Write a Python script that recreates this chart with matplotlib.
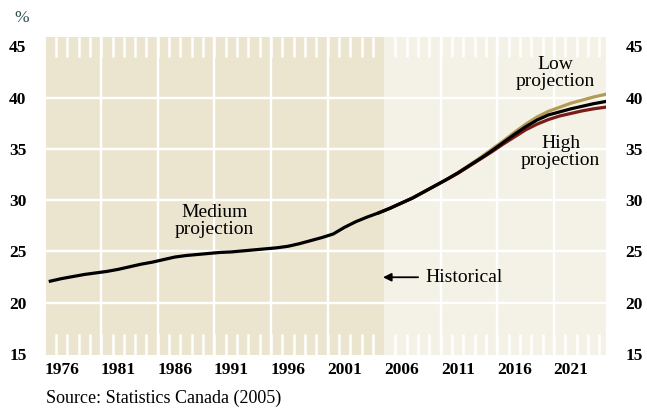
import numpy as np
import matplotlib
matplotlib.use("Agg")
import matplotlib.pyplot as plt

plt.rcParams["font.family"] = ["Liberation Serif", "DejaVu Serif"]

# historical / medium series
hist_years = list(range(1975, 2005))
hist_vals = [22.1, 22.35, 22.55, 22.75, 22.9, 23.05, 23.25, 23.5, 23.75, 23.95,
             24.2, 24.45, 24.6, 24.7, 24.8, 24.9, 24.95, 25.05, 25.15, 25.25,
             25.35, 25.5, 25.75, 26.05, 26.35, 26.7, 27.35, 27.9, 28.35, 28.75]

proj_years = list(range(2004, 2025))
medium_vals = [28.75, 29.2, 29.7, 30.2, 30.8, 31.4, 32.0, 32.65, 33.35, 34.05,
               34.8, 35.6, 36.4, 37.15, 37.8, 38.3, 38.6, 38.9, 39.15, 39.4, 39.6]
low_vals = [28.75, 29.2, 29.7, 30.2, 30.8, 31.4, 32.0, 32.65, 33.4, 34.15,
            34.95, 35.75, 36.6, 37.4, 38.1, 38.65, 39.05, 39.45, 39.75, 40.05, 40.3]
high_vals = [28.75, 29.2, 29.7, 30.2, 30.8, 31.4, 32.0, 32.6, 33.3, 34.0,
             34.7, 35.45, 36.15, 36.85, 37.4, 37.85, 38.2, 38.45, 38.7, 38.9, 39.05]

year_labels = [1976, 1981, 1986, 1991, 1996, 2001, 2006, 2011, 2016, 2021]
y_ticks = [15, 20, 25, 30, 35, 40, 45]
hist_end = 2004.5

dark_bg = "#EBE5D0"
light_bg = "#F4F2E6"

fig = plt.figure(figsize=(6.47, 4.16), dpi=100)
ax = fig.add_axes([0.0711, 0.1466, 0.8655, 0.7644])
ax.set_xlim(1974.62, 2024.1)
ax.set_ylim(14.9, 45.9)
ax.set_facecolor(light_bg)
ax.axvspan(1974.62, hist_end, color=dark_bg, lw=0, zorder=0)

# white grid lines
for x in np.arange(1979.5, 2024, 5):
    if abs(x - hist_end) > 0.1:
        ax.axvline(x, color="white", lw=1.7, zorder=1)
for y in [20, 25, 30, 35, 40]:
    ax.axhline(y, color="white", lw=1.7, zorder=1)

# yearly tick marks at top and bottom
for x in np.arange(1975.5, 2024, 1):
    if abs(x - hist_end) < 0.1:
        continue
    ax.plot([x, x], [45.9, 43.95], color="white", lw=1.8, zorder=1, solid_capstyle="butt")
    ax.plot([x, x], [14.9, 16.95], color="white", lw=1.8, zorder=1, solid_capstyle="butt")

ax.plot(proj_years, low_vals, color="#B49B55", lw=2.3, zorder=3)
ax.plot(proj_years, high_vals, color="#7B1A1A", lw=2.3, zorder=3)
ax.plot(hist_years + proj_years[1:], hist_vals + medium_vals[1:], color="black", lw=2.3, zorder=4)

ax.set_xticks(year_labels)
ax.set_xticklabels([str(y) for y in year_labels], fontsize=12.5, fontweight="bold")
ax.set_yticks(y_ticks)
ax.set_yticklabels([str(y) for y in y_ticks], fontsize=12.5, fontweight="bold")
ax.tick_params(axis="y", length=0, pad=14, labelright=True)
ax.tick_params(axis="x", length=0, pad=5)
for s in ax.spines.values():
    s.set_visible(False)

txt = dict(fontsize=14, ha="center", va="center", linespacing=1.0, zorder=5)
ax.text(1989.5, 28.0, "Medium\nprojection", **txt)
ax.text(2019.6, 42.4, "Low\nprojection", **txt)
ax.text(2020.1, 34.65, "High\nprojection", **txt)

ax.annotate("", xy=(2004.4, 22.48), xytext=(2007.5, 22.48),
            arrowprops=dict(arrowstyle="-|>", color="black", lw=1.3, mutation_scale=12,
                            shrinkA=0, shrinkB=0))
ax.text(2008.1, 22.48, "Historical", fontsize=14, ha="left", va="center")

fig.text(14 / 647, 1 - 18 / 416, "%", fontsize=12.5, color="#2F4F4F", ha="left", va="center")
fig.text(46 / 647, 1 - 398 / 416, "Source: Statistics Canada (2005)", fontsize=13,
         ha="left", va="center")

fig.savefig("out.png", dpi=100)
